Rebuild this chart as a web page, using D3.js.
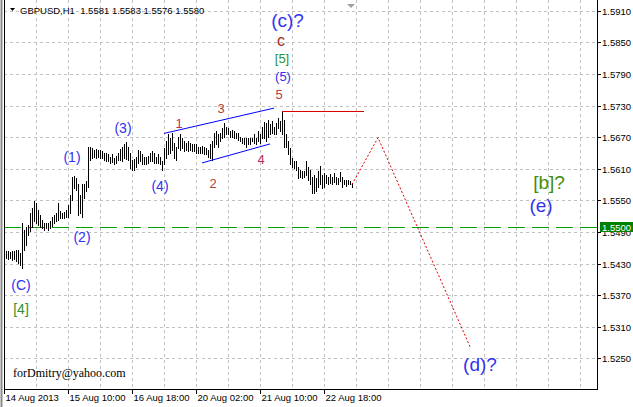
<!DOCTYPE html>
<html><head><meta charset="utf-8">
<script src="https://cdn.jsdelivr.net/npm/d3@7"></script>
<style>html,body{margin:0;padding:0;background:#fff;}svg{display:block;}</style>
</head><body>
<script>
// ---- data ----
const title = "GBPUSD,H1  1.5581 1.5583 1.5576 1.5580";
const highs = [1.5454,1.5453,1.5452,1.5453,1.5453,1.5456,1.5456,1.5450,1.5507,1.5494,
1.5500,1.5504,1.5526,1.5535,1.5549,1.5545,1.5532,1.5523,1.5513,1.5507,
1.5507,1.5507,1.5511,1.5519,1.5523,1.5526,1.5545,1.5529,1.5526,1.5528,
1.5532,1.5542,1.5561,1.5595,1.5597,1.5592,1.5581,1.5561,1.5580,1.5580,
1.5586,1.5652,1.5652,1.5649,1.5646,1.5648,1.5646,1.5646,1.5643,1.5640,
1.5640,1.5637,1.5633,1.5637,1.5630,1.5635,1.5640,1.5647,1.5652,1.5656,
1.5660,1.5652,1.5640,1.5627,1.5628,1.5633,1.5646,1.5643,1.5637,1.5633,
1.5632,1.5635,1.5640,1.5643,1.5640,1.5633,1.5637,1.5633,1.5624,1.5649,
1.5662,1.5675,1.5668,1.5678,1.5659,1.5652,1.5671,1.5675,1.5668,1.5662,
1.5659,1.5662,1.5659,1.5656,1.5657,1.5656,1.5652,1.5652,1.5654,1.5652,
1.5649,1.5646,1.5656,1.5662,1.5678,1.5681,1.5675,1.5678,1.5687,1.5697,
1.5690,1.5687,1.5681,1.5684,1.5681,1.5678,1.5678,1.5671,1.5669,1.5668,
1.5668,1.5668,1.5669,1.5669,1.5676,1.5669,1.5681,1.5676,1.5690,1.5699,
1.5697,1.5703,1.5694,1.5700,1.5690,1.5697,1.5707,1.5700,1.5720,1.5703,
1.5675,1.5662,1.5649,1.5630,1.5624,1.5624,1.5614,1.5608,1.5605,1.5606,
1.5624,1.5614,1.5608,1.5595,1.5598,1.5592,1.5605,1.5616,1.5598,1.5602,
1.5598,1.5595,1.5600,1.5595,1.5602,1.5595,1.5593,1.5604,1.5595,1.5589,
1.5589,1.5589,1.5587,1.5583];
const lows = [1.5441,1.5439,1.5441,1.5437,1.5439,1.5434,1.5431,1.5428,1.5422,1.5456,
1.5466,1.5485,1.5491,1.5500,1.5510,1.5507,1.5504,1.5500,1.5497,1.5494,
1.5497,1.5494,1.5497,1.5502,1.5507,1.5510,1.5513,1.5516,1.5517,1.5516,
1.5519,1.5519,1.5526,1.5551,1.5573,1.5570,1.5523,1.5526,1.5519,1.5554,
1.5567,1.5576,1.5627,1.5630,1.5633,1.5631,1.5633,1.5630,1.5630,1.5627,
1.5624,1.5624,1.5621,1.5623,1.5618,1.5621,1.5627,1.5627,1.5624,1.5630,
1.5628,1.5627,1.5611,1.5607,1.5608,1.5614,1.5621,1.5624,1.5618,1.5618,
1.5618,1.5621,1.5624,1.5624,1.5621,1.5621,1.5621,1.5618,1.5608,1.5618,
1.5630,1.5637,1.5640,1.5646,1.5630,1.5627,1.5649,1.5646,1.5649,1.5643,
1.5646,1.5643,1.5646,1.5643,1.5643,1.5640,1.5640,1.5640,1.5640,1.5637,
1.5637,1.5633,1.5630,1.5627,1.5652,1.5656,1.5652,1.5662,1.5668,1.5671,
1.5675,1.5675,1.5671,1.5671,1.5668,1.5668,1.5665,1.5662,1.5659,1.5656,
1.5652,1.5656,1.5657,1.5662,1.5659,1.5656,1.5662,1.5659,1.5668,1.5668,
1.5662,1.5671,1.5675,1.5678,1.5675,1.5675,1.5687,1.5681,1.5675,1.5652,
1.5652,1.5638,1.5618,1.5614,1.5611,1.5608,1.5592,1.5595,1.5592,1.5595,
1.5598,1.5589,1.5580,1.5564,1.5564,1.5567,1.5576,1.5580,1.5573,1.5576,
1.5583,1.5580,1.5583,1.5581,1.5585,1.5581,1.5580,1.5586,1.5576,1.5580,
1.5578,1.5580,1.5580,1.5576];
const priceTicks = [1.5910,1.5850,1.5790,1.5730,1.5670,1.5610,1.5550,1.5490,1.5430,1.5370,1.5310,1.5250];
const timeTickSlots = [0,32,64,96,128,160];
const timeTickLabels = ["14 Aug 2013","15 Aug 10:00","16 Aug 18:00","20 Aug 02:00","21 Aug 10:00","22 Aug 18:00"];
const levelPrice = 1.5500;
// wedge lines [slot, price]
const wedgeUpper = [[80,1.5677],[135,1.5725]];
const wedgeLower = [[99,1.5621],[133,1.5657]];
const peakLine = [[139,1.5720],[180,1.5720]];
const forecast = [[174,1.5580],[187,1.5669],[233,1.5272]];
// wave labels: text, slot, price (baseline), colour key, size
const waveLabels = [
 ["(c)?",141.75,1.5880,"blue",19],
 ["c",138.5,1.5843,"brown",16],
 ["[5]",139,1.5811,"green",13],
 ["(5)",139.5,1.5777,"blue",13],
 ["5",137.5,1.5743,"wave",13],
 ["3",108.5,1.5716,"wave",13],
 ["1",87.5,1.5688,"wave1",13],
 ["(3)",59.5,1.5678,"blue",14],
 ["(1)",34,1.5623,"blue",14],
 ["4",128.5,1.5619,"wave1",13],
 ["(4)",78,1.5568,"blue",14],
 ["2",104.5,1.5574,"wave",13],
 ["(2)",39,1.5471,"blue",14],
 ["(C)",8.5,1.5380,"blue",14],
 ["[4]",8.5,1.5334,"green",14],
 ["[b]?",272.5,1.5572,"olive",19],
 ["(e)",268.5,1.5528,"blue",19],
 ["(d)?",238,1.5225,"blue",19]
];
const colors = {blue:"#3232f0",brown:"#a02a1a",green:"#2f8f2f",olive:"#3d8c0a",wave:"#b0403a",wave1:"#b8305a"};

// ---- layout ----
const W=633,H=407, left=4, right=597, bottom=389;
const svg=d3.select("body").append("svg").attr("width",W).attr("height",H);
svg.append("rect").attr("width",W).attr("height",H).attr("fill","#fff");
const x=d3.scaleLinear().domain([0,(right-left)/2]).range([left,right]);
const y=d3.scaleLinear().domain([1.5250,1.5910]).range([358.3,10.7]);
const font="'Liberation Sans',Arial,sans-serif";

// grid
const g=svg.append("g").attr("shape-rendering","crispEdges");
priceTicks.forEach(p=>{
  g.append("line").attr("x1",left).attr("x2",right).attr("y1",Math.round(y(p))+0.5).attr("y2",Math.round(y(p))+0.5)
   .attr("stroke","#c0c0c0").attr("stroke-dasharray","3,3");
});
d3.range(16,(right-left)/2,16).forEach(s=>{
  g.append("line").attr("x1",Math.round(x(s))+0.5).attr("x2",Math.round(x(s))+0.5).attr("y1",0).attr("y2",bottom)
   .attr("stroke","#c0c0c0").attr("stroke-dasharray","3,3");
});

// level line
svg.append("line").attr("shape-rendering","crispEdges").attr("x1",left).attr("x2",right)
 .attr("y1",Math.round(y(levelPrice))+0.5).attr("y2",Math.round(y(levelPrice))+0.5)
 .attr("stroke","#00a000").attr("stroke-width",1).attr("stroke-dasharray","17,7");

// bars
svg.append("g").attr("shape-rendering","crispEdges").selectAll("line").data(highs).join("line")
 .attr("x1",(d,i)=>Math.round(x(i+1))+0.5).attr("x2",(d,i)=>Math.round(x(i+1))+0.5)
 .attr("y1",d=>Math.round(y(d))).attr("y2",(d,i)=>Math.round(y(lows[i]))+1)
 .attr("stroke","#000").attr("stroke-width",1);

const line=d3.line().x(d=>x(d[0])).y(d=>y(d[1]));
svg.append("path").attr("d",line(wedgeUpper)).attr("stroke","#0000ff").attr("fill","none");
svg.append("path").attr("d",line(wedgeLower)).attr("stroke","#0000ff").attr("fill","none");
svg.append("path").attr("shape-rendering","crispEdges").attr("d",d3.line().x(d=>x(d[0])).y(d=>Math.round(y(d[1]))+0.5)(peakLine)).attr("stroke","#dd0000").attr("fill","none");
svg.append("path").attr("d",line(forecast)).attr("stroke","#e00000").attr("stroke-dasharray","2,2").attr("fill","none");

// wave labels
svg.append("g").selectAll("text").data(waveLabels).join("text")
 .attr("x",d=>x(d[1])).attr("y",d=>y(d[2])).attr("text-anchor","middle")
 .attr("font-family",font).attr("font-size",d=>d[4]).attr("fill",d=>colors[d[3]]).text(d=>d[0]);

// frame
svg.append("line").attr("x1",1.5).attr("x2",1.5).attr("y1",0).attr("y2",H).attr("stroke","#8a8a8a").attr("stroke-width",2);
const fr=svg.append("g").attr("shape-rendering","crispEdges");
fr.append("line").attr("x1",left+0.5).attr("x2",left+0.5).attr("y1",0).attr("y2",bottom).attr("stroke","#000");
fr.append("line").attr("x1",right+0.5).attr("x2",right+0.5).attr("y1",0).attr("y2",bottom+0.5).attr("stroke","#000");
fr.append("line").attr("x1",left).attr("x2",right+1).attr("y1",bottom+0.5).attr("y2",bottom+0.5).attr("stroke","#000");

// price axis
priceTicks.forEach(p=>{
  const yy=Math.round(y(p))+0.5;
  fr.append("line").attr("x1",right).attr("x2",right+4).attr("y1",yy).attr("y2",yy).attr("stroke","#000");
  svg.append("text").attr("x",right+5).attr("y",yy+3.5).attr("font-family",font).attr("font-size",9.5).attr("fill","#000").text(p.toFixed(4));
});
// level price box
const ly=Math.round(y(levelPrice));
svg.append("rect").attr("x",right+3).attr("y",ly-5).attr("width",W-right-3).attr("height",10).attr("fill","#008000");
svg.append("text").attr("x",right+5).attr("y",ly+3.5).attr("font-family",font).attr("font-size",9.5).attr("fill","#fff").text(levelPrice.toFixed(4));

// time axis
timeTickSlots.forEach((s,i)=>{
  const xx=Math.round(x(s))+0.5;
  fr.append("line").attr("x1",xx).attr("x2",xx).attr("y1",bottom).attr("y2",bottom+5).attr("stroke","#000");
  svg.append("text").attr("x",xx+1).attr("y",401).attr("font-family",font).attr("font-size",9.5).attr("fill","#000").text(timeTickLabels[i]);
});

// title
svg.append("path").attr("d","M10,8 L15,8 L12.5,11 Z").attr("fill","#000");
svg.append("text").attr("x",20).attr("y",14).attr("font-family",font).attr("font-size",9.5).attr("fill","#000")
  .attr("xml:space","preserve").text(title);
// shift marker
svg.append("path").attr("d","M347,4 L355,4 L351,8 Z").attr("fill","#a0a0a0");
// signature
svg.append("text").attr("x",13).attr("y",377).attr("font-family","'Liberation Serif','Times New Roman',serif").attr("font-size",12).attr("fill","#000").text("forDmitry@yahoo.com");
</script>
</body></html>
